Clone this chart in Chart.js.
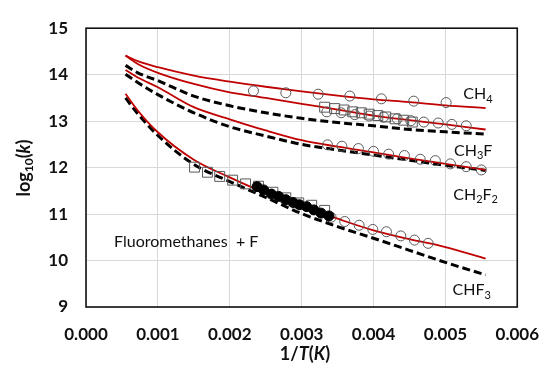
<!DOCTYPE html>
<html>
<head>
<meta charset="utf-8">
<script src="https://cdn.jsdelivr.net/npm/chart.js@4/dist/chart.umd.min.js"></script>
<style>
body { margin: 0; background: #fff; }
#wrap { width: 556px; height: 366px; }
</style>
</head>
<body>
<div id="wrap"><canvas id="rates" width="556" height="366"></canvas></div>
<script>
// 1/T grid used for the computed curves
var invT = [0.00055, 0.00072, 0.0010, 0.0015, 0.0020, 0.0025, 0.0030, 0.0035, 0.0040, 0.0045, 0.0050, 0.00556];

// computed log10(k), red = solid, alt = dashed
var ch4Calc   = [14.41, 14.29, 14.16, 13.98, 13.85, 13.74, 13.64, 13.55, 13.47, 13.41, 13.34, 13.28];
var ch3fCalc  = [14.41, 14.23, 14.04, 13.80, 13.62, 13.50, 13.37, 13.25, 13.12, 13.02, 12.93, 12.82];
var ch3fAlt   = [14.20, 14.04, 13.87, 13.54, 13.33, 13.18, 13.06, 12.97, 12.90, 12.82, 12.77, 12.72];
var ch2f2Calc = [14.10, 13.94, 13.73, 13.30, 13.04, 12.80, 12.59, 12.45, 12.33, 12.20, 12.08, 11.95];
var ch2f2Alt  = [14.01, 13.83, 13.57, 13.18, 12.88, 12.68, 12.50, 12.38, 12.27, 12.16, 12.05, 11.94];
var chf3Calc  = [13.59, 13.23, 12.76, 12.17, 11.79, 11.45, 11.17, 10.90, 10.65, 10.46, 10.29, 10.04];
var chf3Alt   = [13.50, 13.16, 12.69, 12.07, 11.70, 11.36, 11.01, 10.73, 10.48, 10.22, 9.96, 9.69];

// experimental points
var ch4ObsX = [0.00233, 0.00278, 0.00323, 0.00367, 0.00411, 0.00456, 0.00501];
var ch4ObsY = [13.65, 13.61, 13.58, 13.54, 13.48, 13.43, 13.40];

var ch3fSqX = [0.00332, 0.00346, 0.00359, 0.00371, 0.00383, 0.00394, 0.00406, 0.00417, 0.00430, 0.00442, 0.00454];
var ch3fSqY = [13.30, 13.27, 13.24, 13.20, 13.18, 13.15, 13.12, 13.09, 13.05, 13.02, 12.98];
var ch3fObsX = [0.00335, 0.00355, 0.00374, 0.00394, 0.00414, 0.00433, 0.00452, 0.00470, 0.00490, 0.00509, 0.00529];
var ch3fObsY = [13.20, 13.18, 13.14, 13.11, 13.09, 13.05, 13.01, 12.98, 12.96, 12.93, 12.90];

var ch2f2ObsX = [0.00336, 0.00356, 0.00379, 0.00400, 0.00421, 0.00443, 0.00465, 0.00486, 0.00507, 0.00529, 0.00550];
var ch2f2ObsY = [12.49, 12.46, 12.41, 12.35, 12.29, 12.26, 12.18, 12.15, 12.08, 12.02, 11.95];

var chf3SqX = [0.00151, 0.00169, 0.00186, 0.00204, 0.00222, 0.00240, 0.00260, 0.00278, 0.00296, 0.00314, 0.00332];
var chf3SqY = [12.01, 11.90, 11.81, 11.73, 11.65, 11.60, 11.47, 11.35, 11.24, 11.19, 11.08];
var chf3DotX = [0.00238, 0.00247, 0.00258, 0.00268, 0.00278, 0.00288, 0.00297, 0.00307, 0.00317, 0.00327, 0.00338];
var chf3DotY = [11.59, 11.52, 11.43, 11.38, 11.31, 11.25, 11.20, 11.16, 11.09, 11.02, 10.96];
var chf3ObsX = [0.00341, 0.00360, 0.00380, 0.00399, 0.00418, 0.00438, 0.00457, 0.00476];
var chf3ObsY = [10.93, 10.84, 10.76, 10.67, 10.62, 10.53, 10.44, 10.37];

var FONT = "Lato, 'Open Sans', sans-serif";
var RED = "#c00000";
var GREY = "#595959";
var INK = "#111";

function pts(xs, ys) {
	var out = [];
	for (var i = 0; i < xs.length; i++) out.push({x: xs[i], y: ys[i]});
	return out;
}

function fitLine(ys, color, dashed) {
	return {
		data: pts(invT, ys),
		showLine: true,
		borderColor: color,
		borderWidth: dashed ? 3 : 1.8,
		borderDash: dashed ? [8, 4] : [],
		pointRadius: 0,
		cubicInterpolationMode: 'monotone',
		fill: false,
		order: 2
	};
}

function marks(xs, ys, style, filled) {
	return {
		data: pts(xs, ys),
		showLine: false,
		pointStyle: style,
		pointRadius: style == 'rect' ? 7 : 5,
		borderWidth: 1,
		borderColor: filled ? '#000' : GREY,
		backgroundColor: filled ? '#000' : 'rgba(0,0,0,0)',
		order: filled ? 0 : 1
	};
}

// in-plot species labels, anchored in data units (left edge, vertical middle)
var notes = [
	{x: 0.00525, y: 13.58, runs: [['CH', 0], ['4', 1]]},
	{x: 0.00512, y: 12.37, runs: [['CH', 0], ['3', 1], ['F', 0]]},
	{x: 0.00511, y: 11.41, runs: [['CH', 0], ['2', 1], ['F', 0], ['2', 1]]},
	{x: 0.00510, y: 9.36, runs: [['CHF', 0], ['3', 1]]},
	{x: 0.00039, y: 10.41, runs: [['Fluoromethanes  + F', 0]]}
];

// draws a line of mixed text; run = [text, kind] where kind 1 = subscript,
// 2 = italic, 3 = bold, 4 = bold italic, 5 = bold subscript
function richText(ctx, runs, x, y, size, center) {
	var fonts = {
		0: size + 'px ' + FONT,
		1: Math.round(size * 0.68) + 'px ' + FONT,
		2: 'italic ' + size + 'px ' + FONT,
		3: 'bold ' + size + 'px ' + FONT,
		4: 'bold italic ' + size + 'px ' + FONT,
		5: 'bold ' + Math.round(size * 0.68) + 'px ' + FONT
	};
	var w = 0, i;
	for (i = 0; i < runs.length; i++) {
		ctx.font = fonts[runs[i][1]];
		w += ctx.measureText(runs[i][0]).width;
	}
	var cx = center ? x - w / 2 : x;
	ctx.textBaseline = 'middle';
	ctx.textAlign = 'left';
	for (i = 0; i < runs.length; i++) {
		var k = runs[i][1];
		ctx.font = fonts[k];
		var dy = (k == 1 || k == 5) ? size * 0.3 : 0;
		ctx.fillText(runs[i][0], cx, y + dy);
		cx += ctx.measureText(runs[i][0]).width;
	}
}

var decor = {
	id: 'decor',
	beforeDatasetsDraw: function(chart) {
		var a = chart.chartArea, ctx = chart.ctx;
		ctx.save();
		ctx.strokeStyle = INK;
		ctx.lineWidth = 1.6;
		ctx.strokeRect(a.left, a.top, a.right - a.left, a.bottom - a.top);
		ctx.restore();
	},
	afterDraw: function(chart) {
		var ctx = chart.ctx, xs = chart.scales.x, ys = chart.scales.y;
		ctx.save();
		ctx.fillStyle = INK;
		for (var i = 0; i < notes.length; i++) {
			var n = notes[i];
			richText(ctx, n.runs, xs.getPixelForValue(n.x), ys.getPixelForValue(n.y), 16, false);
		}
		// axis titles
		richText(ctx, [['1/', 3], ['T', 4], ['(', 3], ['K', 4], [')', 3]], 305, 354, 18, true);
		ctx.translate(24, 168);
		ctx.rotate(-Math.PI / 2);
		richText(ctx, [['log', 3], ['10', 5], ['(', 3], ['k', 4], [')', 3]], 0, 0, 18, true);
		ctx.restore();
	}
};

var chart = new Chart(document.getElementById('rates').getContext('2d'), {
	type: 'scatter',
	data: {
		datasets: [
			marks(chf3DotX, chf3DotY, 'circle', true),
			marks(ch4ObsX, ch4ObsY, 'circle', false),
			marks(ch3fSqX, ch3fSqY, 'rect', false),
			marks(ch3fObsX, ch3fObsY, 'circle', false),
			marks(ch2f2ObsX, ch2f2ObsY, 'circle', false),
			marks(chf3SqX, chf3SqY, 'rect', false),
			marks(chf3ObsX, chf3ObsY, 'circle', false),
			fitLine(ch4Calc, RED, false),
			fitLine(ch3fCalc, RED, false),
			fitLine(ch3fAlt, '#000', true),
			fitLine(ch2f2Calc, RED, false),
			fitLine(ch2f2Alt, '#000', true),
			fitLine(chf3Calc, RED, false),
			fitLine(chf3Alt, '#000', true)
		]
	},
	options: {
		responsive: false,
		animation: false,
		layout: {padding: {top: 20, right: 23, left: 0, bottom: 0}},
		plugins: {legend: {display: false}, tooltip: {enabled: false}},
		scales: {
			x: {
				type: 'linear', min: 0, max: 0.006,
				afterFit: function(s) { s.height = 59; },
				grid: {color: '#d9d9d9', lineWidth: 1, drawTicks: false},
				border: {display: false},
				ticks: {
					stepSize: 0.001, padding: 17, color: INK,
					font: {family: FONT, size: 17, weight: 'bold'},
					callback: function(v) { return v.toFixed(3); }
				}
			},
			y: {
				type: 'linear', min: 9, max: 15,
				afterFit: function(s) { s.width = 86; },
				grid: {color: '#d9d9d9', lineWidth: 1, drawTicks: false},
				border: {display: false},
				ticks: {
					stepSize: 1, padding: 18, color: INK,
					font: {family: FONT, size: 17, weight: 'bold'}
				}
			}
		}
	},
	plugins: [decor]
});
</script>
</body>
</html>
